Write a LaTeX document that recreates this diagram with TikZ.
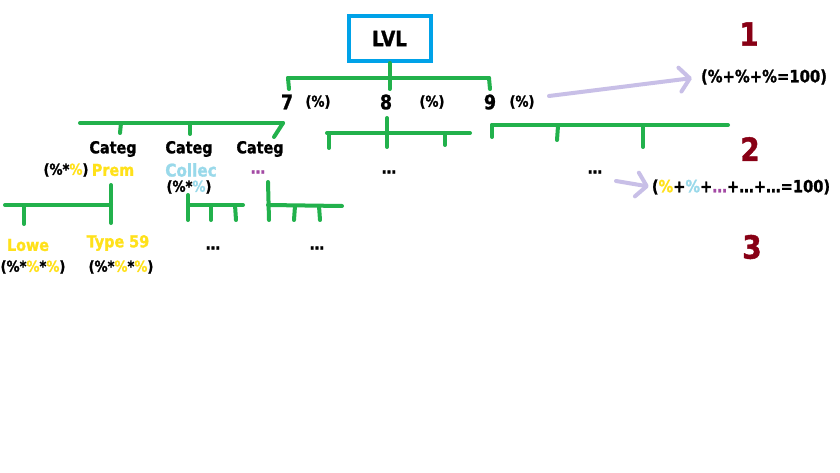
\documentclass[tikz,border=0pt]{standalone}
\usepackage{fontspec}
\setmainfont{DejaVu Sans}[FakeStretch=0.87,BoldFeatures={FakeBold=1.2}]
\usetikzlibrary{arrows.meta}
\definecolor{pgreen}{HTML}{22B14C}
\definecolor{pblue}{HTML}{00A2E8}
\definecolor{plav}{HTML}{C8BFE7}
\definecolor{pred}{HTML}{880015}
\definecolor{pyellow}{HTML}{FFE11A}
\definecolor{plblue}{HTML}{99D9EA}
\definecolor{ppurple}{HTML}{A349A4}
\tikzset{
  gl/.style={draw=pgreen,line width=4pt,line cap=round,line join=round},
  lav/.style={draw=plav,line width=4pt,line cap=round,line join=round,
    -{Straight Barb[length=10pt,width=24pt,line width=4pt,round]}},
  txt/.style={inner sep=0pt,font=\fontsize{16.5}{18}\selectfont\bfseries},
  small/.style={inner sep=0pt,font=\fontsize{15}{17}\selectfont\bfseries},
  form/.style={inner sep=0pt,font=\fontsize{17}{19}\selectfont\bfseries},
  digit/.style={inner sep=0pt,font=\fontsize{20}{22}\selectfont\bfseries},
  lvlnum/.style={inner sep=0pt,text=pred,font=\fontsize{32}{34}\selectfont\bfseries},
}
\begin{document}
\begin{tikzpicture}[x=1pt,y=-1pt]
\useasboundingbox[fill=white] (0,0) rectangle (840,473);
% root
\node[draw=pblue,line width=4pt,minimum width=82pt,minimum height=45pt,inner sep=0pt,
  font=\fontsize{21}{23}\selectfont\bfseries] (lvl) at (389.5,38.5) {LVL};
\draw[gl] (lvl.south) -- (389.5,78);
\draw[gl] (288,78) -- (489,78);
\draw[gl] (288,78) -- (289,89);
\draw[gl] (389.5,78) -- (389.5,89);
\draw[gl] (489,78) -- (490,89);
% level 1 labels
\node[digit] (n7) at (287,102) {7};
\node[small] (p7) at (318,102) {(\%)};
\node[digit] (n8) at (386,102) {8};
\node[small] (p8) at (432,102) {(\%)};
\node[digit] (n9) at (490,102) {9};
\node[small] (p9) at (522,102) {(\%)};
% level-1 arrow and formula
\node[lvlnum] (one) at (749,34) {1};
\node[form] (f1) at (764,77) {(\%+\%+\%=100)};
\draw[lav,shorten >=9pt] (549,96) -- (f1.west);
% left level-2 bracket
\draw[gl] (80,123) -- (283,123);
\draw[gl] (121,123) -- (120,133);
\draw[gl] (190,123) -- (190,134);
\draw[gl] (283,123) -- (274,137);
% middle bracket
\draw[gl] (327,133) -- (470,133);
\draw[gl] (387,118) -- (387,147);
\draw[gl] (329,133) -- (329,148);
\draw[gl] (445,133) -- (445,145);
% right bracket
\draw[gl] (492,125) -- (728,125);
\draw[gl] (492,125) -- (492,137);
\draw[gl] (558,126) -- (557,140);
\draw[gl] (643,126) -- (643,147);
% level 2 labels
\node[txt] (c1) at (113,149) {Categ};
\node[txt] (c2) at (189,149) {Categ};
\node[txt] (c3) at (260,149) {Categ};
\node[small] (pc1) at (66,170) {(\%*\textcolor{pyellow}{\%})};
\node[txt,text=pyellow] (prem) at (113,170) {Prem};
\node[txt,text=plblue,font=\fontsize{17.5}{19}\selectfont\bfseries] (coll) at (191,170) {Collec};
\node[small] (pc2) at (189,187) {(\%*\textcolor{plblue}{\%})};
\node[txt,text=ppurple] (d3) at (258,172) {…};
\node[txt] (dm) at (389,172) {…};
\node[txt] (dr) at (595,172) {…};
\node[lvlnum] (two) at (750,149) {2};
\node[form,font=\fontsize{16.8}{19}\selectfont\bfseries] (f2) at (741,187) {(\textcolor{pyellow}{\%}+\textcolor{plblue}{\%}+\textcolor{ppurple}{…}+…+…=100)};
\draw[lav,shorten >=3pt] (616,181) -- (f2.west);
\node[lvlnum] (three) at (752,247) {3};
% level 3 brackets
\draw[gl] (5,205) -- (111,205);
\draw[gl] (24,205) -- (24,224);
\draw[gl] (111,185) -- (111,223);
\draw[gl] (188,195) -- (188,220);
\draw[gl] (188,205) -- (243,205);
\draw[gl] (211,205) -- (211,220);
\draw[gl] (235,205) -- (236,220);
\draw[gl] (268,182) -- (269,220);
\draw[gl] (268,205) -- (342,206);
\draw[gl] (295,206) -- (294,220);
\draw[gl] (319,206) -- (320,220);
% level 3 labels
\node[txt,text=pyellow] (lowe) at (28,245) {Lowe};
\node[txt,text=pyellow] (type) at (118,243) {Type 59};
\node[small] (pl) at (33,267) {(\%*\textcolor{pyellow}{\%}*\textcolor{pyellow}{\%})};
\node[small] (pt) at (121,267) {(\%*\textcolor{pyellow}{\%}*\textcolor{pyellow}{\%})};
\node[txt] (d4) at (213,248) {…};
\node[txt] (d5) at (317,248) {…};
\end{tikzpicture}
\end{document}
